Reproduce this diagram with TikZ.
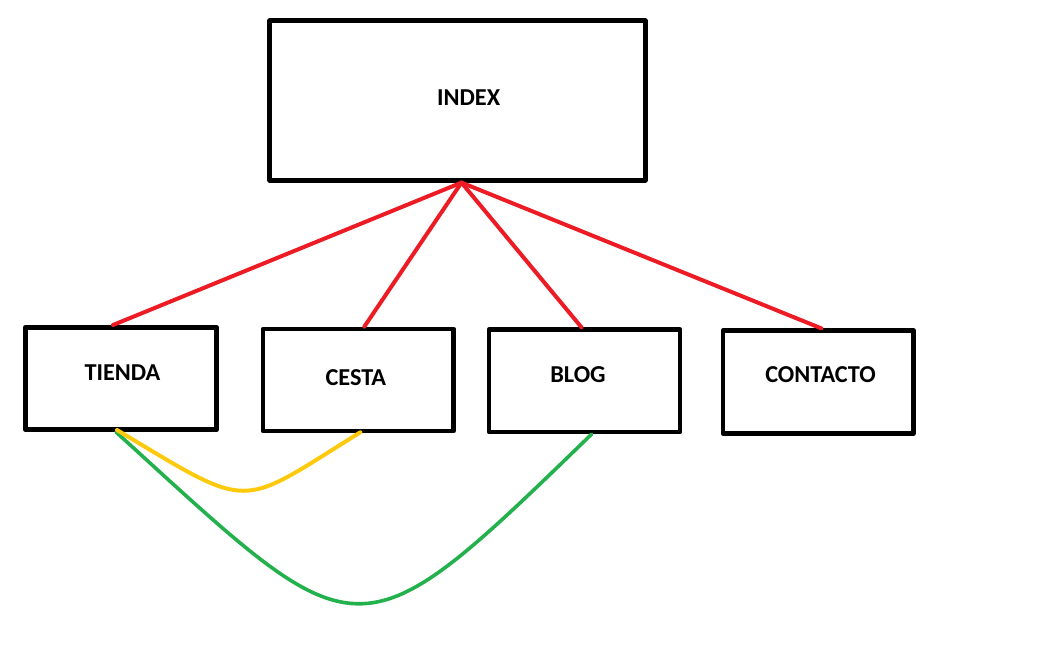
\documentclass[tikz,border=0pt]{standalone}
\usepackage{fontspec}
\setmainfont{Carlito}
\definecolor{pred}{HTML}{ED1C24}
\definecolor{pgold}{HTML}{FFC90E}
\definecolor{pgreen}{HTML}{22B14C}
\tikzset{
  box/.style={draw=black,line width=4.6pt,fill=white,inner sep=0pt},
  lbl/.style={inner sep=0pt,text height=15pt,text depth=0pt,font=\fontsize{24.3}{28}\selectfont\bfseries},
  link/.style={draw=pred,line width=4pt},
}
\begin{document}
\begin{tikzpicture}[x=1pt,y=-1pt,line cap=round,line join=round]
  \useasboundingbox (0,0) rectangle (1054,653);
  \node[box,minimum width=375.6pt,minimum height=159.6pt] (index) at (457.5,100.5) {};
  \node[box,minimum width=191.4pt,minimum height=102.4pt] (tienda) at (121,378.5) {};
  \node[box,minimum width=190.7pt,minimum height=102pt] (cesta) at (358.3,380) {};
  \node[box,minimum width=191pt,minimum height=102.3pt] (blog) at (584.5,380.8) {};
  \node[box,minimum width=190.7pt,minimum height=102.7pt] (contacto) at (818.3,382) {};
  \node[lbl] (indexlbl) at (468.7,97.5) {INDEX};
  \node[lbl] (tiendalbl) at (122.5,373.3) {TIENDA};
  \node[lbl] (cestalbl) at (355.8,377.5) {CESTA};
  \node[lbl] (bloglbl) at (578,374.8) {BLOG};
  \node[lbl] (contactolbl) at (820.5,375) {CONTACTO};
  \draw[link] ([xshift=4pt]index.south) -- ([xshift=-8pt]tienda.north);
  \draw[link] ([xshift=4pt]index.south) -- ([xshift=6pt]cesta.north);
  \draw[link] ([xshift=4pt]index.south) -- ([xshift=-3pt]blog.north);
  \draw[link] ([xshift=4pt]index.south) -- ([xshift=3pt]contacto.north);
  \draw[pgreen,line width=3.6pt] ([xshift=-5pt]tienda.south) .. controls +(246,224) and +(-238,231) .. ([xshift=7pt]blog.south);
  \draw[pgold,line width=4pt] ([xshift=-4pt,yshift=2pt]tienda.south) .. controls +(137,82) and +(-124,77) .. ([xshift=2pt,yshift=1pt]cesta.south);
\end{tikzpicture}
\end{document}
